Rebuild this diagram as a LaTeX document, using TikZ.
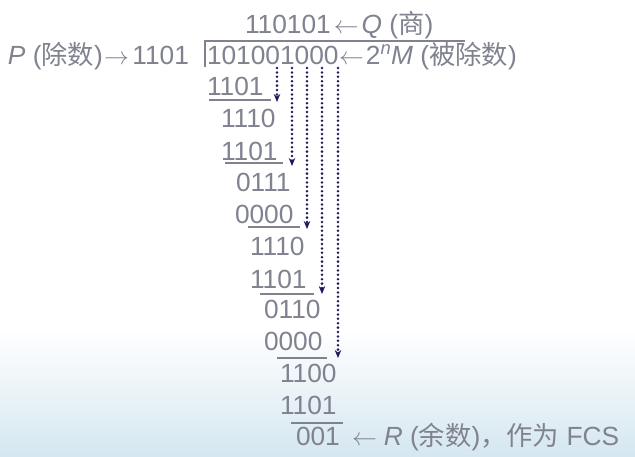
\documentclass[tikz,border=0pt]{standalone}
\usepackage{fontspec}
\setmainfont{Liberation Sans}
\newfontfamily\cjk{Noto Sans CJK SC}
\usetikzlibrary{arrows.meta}
\definecolor{txtgray}{HTML}{80838F}
\definecolor{navy}{HTML}{1A1A5E}
\definecolor{skyblue}{HTML}{D5E7F0}
\newcommand{\larr}{\ensuremath{\leftarrow}}
\newcommand{\rarr}{\ensuremath{\rightarrow}}
\tikzset{
  txt/.style={anchor=base west, inner sep=0pt, outer sep=0pt, text=txtgray,
    font=\fontsize{26.3}{30}\selectfont},
  txtr/.style={txt, anchor=base east},
  rule/.style={draw=txtgray, line width=1.8pt},
  carry/.style={draw=navy, line width=2.8pt, line cap=round,
    dash pattern=on 0pt off 4.4pt, -{Stealth[length=8pt,width=6.5pt]}}
}
\begin{document}
\begin{tikzpicture}[x=1pt,y=-1pt]
\useasboundingbox (0,0) rectangle (635,456);
\fill[white] (0,0) rectangle (635,330);
\shade[top color=white, bottom color=skyblue] (0,330) rectangle (635,456);

% quotient
\node[txt] (quot) at (245,33) {110101\kern3pt\larr\kern3pt\textit{Q} ({\cjk 商})};
% divisor row
\node[txt] (plab) at (8,64) {\textit{P} ({\cjk 除数})};
\node[txt] (parr) at (104,64) {\rarr};
\node[txtr] (divisor) at (189,64) {1101};
\node[txt] (dividend) at (207,64) {101001000};
\node[txt] (mlab) at (339,64) {\larr\kern2pt2\textsuperscript{\textit{n}}\textit{M} ({\cjk 被除数})};
\draw[rule] (205,67) -- (205,41) -- (465,41);

% rows
\node[txt] (r1) at (207,95) {1101};
\node[txt] (r2) at (221,127) {1110};
\node[txt] (r3) at (221,160) {1101};
\node[txt] (r4) at (236,191) {0111};
\node[txt] (r5) at (235,223) {0000};
\node[txt] (r6) at (250,255) {1110};
\node[txt] (r7) at (250,288) {1101};
\node[txt] (r8) at (264,318) {0110};
\node[txt] (r9) at (264,350) {0000};
\node[txt] (r10) at (280,382) {1100};
\node[txt] (r11) at (280,414) {1101};
\node[txt] (r12) at (296,445) {001};
\node[txt] (rlab) at (352,445) {\larr\kern7pt\textit{R} ({\cjk 余数}){\cjk ，作为} FCS};

% underlines
\draw[rule] (209,100) -- (271,100);
\draw[rule] (225,163) -- (283,163);
\draw[rule] (248,227) -- (300,227);
\draw[rule] (260,294) -- (314,294);
\draw[rule] (277,358) -- (327,358);
\draw[rule] (291,423) -- (343,423);

% carry-down arrows
\coordinate (s1) at (277,68); \coordinate (e1) at (277,102);
\coordinate (s2) at (292,68); \coordinate (e2) at (292,166);
\coordinate (s3) at (307,68); \coordinate (e3) at (307,229);
\coordinate (s4) at (322,68); \coordinate (e4) at (322,294);
\coordinate (s5) at (338,68); \coordinate (e5) at (338,358);
\draw[carry] (s1) -- (e1);
\draw[carry] (s2) -- (e2);
\draw[carry] (s3) -- (e3);
\draw[carry] (s4) -- (e4);
\draw[carry] (s5) -- (e5);
\end{tikzpicture}
\end{document}
